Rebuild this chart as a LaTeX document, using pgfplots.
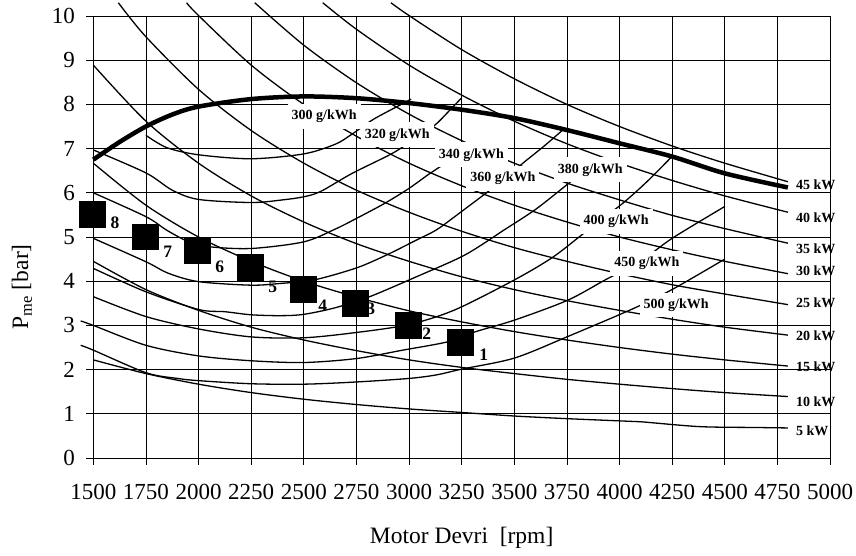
\documentclass[border=0pt]{standalone}
\usepackage{fontspec}
\setmainfont{Liberation Serif}
\usepackage{pgfplots}
\pgfplotsset{compat=1.18}
\tikzset{
  lbl/.style={fill=white, inner xsep=4pt, inner ysep=6pt, font=\bfseries\fontsize{14}{16}\selectfont},
  kw/.style={anchor=west, inner sep=0pt, font=\bfseries\fontsize{14}{16}\selectfont},
  num/.style={inner sep=0pt, font=\bfseries\fontsize{17.5}{19}\selectfont},
}
\begin{document}
\begin{tikzpicture}
\begin{axis}[
  name=ax,
  scale only axis,
  width=736.7pt, height=442pt,
  xmin=1500, xmax=5000, ymin=0, ymax=10,
  xtick={1500,1750,...,5000},
  ytick={0,1,...,10},
  clip=false,
  grid=major,
  major grid style={black, line width=0.65pt},
  axis line style={black, line width=0.9pt},
  tick align=outside,
  major tick length=7pt,
  tick style={black, line width=0.65pt},
  tick pos=left,
  /pgf/number format/assume math mode=true,
  /pgf/number format/1000 sep={},
  tick label style={font=\fontsize{23}{25}\selectfont},
  xticklabel style={yshift=-16pt},
  yticklabel style={xshift=-8pt},
  xlabel={Motor Devri~ [rpm]},
  ylabel={P\textsubscript{me} [bar]},
  label style={font=\fontsize{23.5}{25}\selectfont},
  xlabel style={at={(axis description cs:0.5,-0.181)}, anchor=center},
  ylabel style={at={(axis description cs:-0.097,0.387)}, anchor=center},
  every axis plot/.append style={black, line width=1.3pt},
]
% power hyperbolas
\addplot[smooth] coordinates {(1500,2.22)(1750,1.91)(2000,1.67)(2250,1.48)(2500,1.33)(2750,1.21)(3000,1.11)(3250,1.03)(3500,0.95)(3750,0.89)(4000,0.84)(4100,0.82)(4380,0.71)(4650,0.69)(4800,0.68)};
\addplot[smooth] coordinates {(1500,4.45)(1750,3.81)(2000,3.34)(2250,2.96)(2500,2.67)(2750,2.43)(3000,2.22)(3250,2.05)(3500,1.91)(3750,1.78)(4000,1.67)(4250,1.57)(4500,1.48)(4800,1.39)};
\addplot[smooth] coordinates {(1500,6.67)(1750,5.72)(2000,5.00)(2250,4.45)(2500,4.00)(2750,3.64)(3000,3.33)(3250,3.08)(3500,2.86)(3750,2.67)(4000,2.50)(4250,2.35)(4500,2.22)(4800,2.08)};
\addplot[smooth] coordinates {(1500,8.89)(1750,7.62)(2000,6.67)(2250,5.93)(2500,5.34)(2750,4.85)(3000,4.45)(3250,4.10)(3500,3.81)(3750,3.56)(4000,3.34)(4250,3.14)(4500,2.96)(4800,2.78)};
\addplot[smooth] coordinates {(1619,10.3)(1750,9.53)(2000,8.34)(2250,7.41)(2500,6.67)(2750,6.06)(3000,5.56)(3250,5.13)(3500,4.76)(3750,4.45)(4000,4.17)(4250,3.92)(4500,3.71)(4800,3.47)};
\addplot[smooth] coordinates {(1943,10.3)(2000,10.01)(2250,8.89)(2500,8.00)(2750,7.28)(3000,6.67)(3250,6.16)(3500,5.72)(3750,5.34)(4000,5.00)(4250,4.71)(4500,4.45)(4800,4.17)};
\addplot[smooth] coordinates {(2267,10.3)(2500,9.34)(2750,8.49)(3000,7.78)(3250,7.18)(3500,6.67)(3750,6.22)(4000,5.84)(4250,5.49)(4500,5.19)(4800,4.86)};
\addplot[smooth] coordinates {(2590,10.3)(2750,9.70)(3000,8.89)(3250,8.21)(3500,7.62)(3750,7.11)(4000,6.67)(4250,6.28)(4500,5.93)(4800,5.56)};
\addplot[smooth] coordinates {(2914,10.3)(3000,10.01)(3250,9.24)(3500,8.58)(3750,8.00)(4000,7.50)(4250,7.06)(4500,6.67)(4800,6.25)};
% BSFC curves
\addplot[smooth] coordinates {(1750,7.30)(1850,7.02)(2000,6.86)(2250,6.77)(2500,6.88)(2650,7.10)(2730,7.33)(2830,7.66)(2955,7.98)(3010,8.12)};
\addplot[smooth] coordinates {(1500,6.97)(1750,6.45)(1875,6.06)(2000,5.85)(2250,5.78)(2400,5.84)(2500,5.91)(2580,6.03)(2730,6.44)(2920,6.89)(3020,7.20)(3120,7.52)(3190,7.85)(3250,8.15)};
\addplot[smooth] coordinates {(1500,6.00)(1750,5.46)(1850,5.15)(1950,4.90)(2050,4.78)(2250,4.74)(2500,4.89)(2650,5.18)(2750,5.42)(2884,5.76)(3000,6.10)(3100,6.44)(3200,6.75)};
\addplot[smooth] coordinates {(1500,4.97)(1750,4.44)(1856,4.18)(2000,3.99)(2250,3.91)(2390,3.95)(2550,4.03)(2750,4.30)(2892,4.59)(3035,4.93)(3130,5.16)(3217,5.46)(3343,5.91)(3450,6.30)(3541,6.67)(3640,7.05)(3735,7.44)};
\addplot[smooth] coordinates {(1500,4.29)(1750,3.76)(2000,3.36)(2125,3.31)(2250,3.24)(2390,3.22)(2500,3.25)(2650,3.40)(2813,3.65)(3035,4.10)(3264,4.59)(3452,5.16)(3600,5.62)(3739,6.14)(3780,6.30)};
\addplot[smooth] coordinates {(1500,3.65)(1750,3.20)(2000,2.92)(2250,2.74)(2500,2.72)(2750,2.84)(3000,3.02)(3217,3.35)(3501,4.03)(3676,4.52)(3800,4.97)(3900,5.35)(4015,5.76)(4130,6.25)(4245,6.80)};
\addplot[smooth] coordinates {(1440,3.10)(1500,3.00)(1750,2.55)(2000,2.31)(2250,2.20)(2500,2.16)(2750,2.25)(2970,2.44)(3185,2.63)(3311,2.85)(3501,3.12)(3754,3.57)(3936,4.04)(4100,4.45)(4250,4.97)(4500,5.69)};
\addplot[smooth] coordinates {(1440,2.55)(1500,2.44)(1750,1.93)(1900,1.80)(2000,1.75)(2250,1.68)(2500,1.67)(2750,1.72)(3000,1.80)(3130,1.88)(3250,2.01)(3500,2.26)(3750,2.74)(4070,3.39)(4253,3.82)(4500,4.50)};
% full load
\addplot[smooth, line width=4.5pt] coordinates {(1500,6.75)(1625,7.15)(1750,7.50)(1875,7.77)(2000,7.95)(2250,8.12)(2500,8.18)(2750,8.14)(3000,8.03)(3250,7.88)(3500,7.69)(3750,7.42)(4000,7.12)(4250,6.82)(4500,6.44)(4800,6.12)};
% point labels
\node[num] at (axis cs:1603,5.32) {8};
\node[num] at (axis cs:1854,4.66) {7};
\node[num] at (axis cs:2101,4.32) {6};
\node[num] at (axis cs:2353,3.87) {5};
\node[num] at (axis cs:2590,3.44) {4};
\node[num] at (axis cs:2818,3.37) {3};
\node[num] at (axis cs:3084,2.81) {2};
\node[num] at (axis cs:3355,2.33) {1};
% operating points
\addplot[only marks, mark=square*, mark size=12.8pt, mark options={fill=black, draw=black}] coordinates {(1496,5.50)(1748,5.00)(1996,4.69)(2246,4.31)(2497,3.81)(2746,3.50)(2997,3.00)(3244,2.61)};
% BSFC labels
\node[lbl] at (axis cs:2597,7.73) {300 g/kWh};
\node[lbl] at (axis cs:2944,7.31) {320 g/kWh};
\node[lbl] at (axis cs:3296,6.86) {340 g/kWh};
\node[lbl] at (axis cs:3446,6.33) {360 g/kWh};
\node[lbl] at (axis cs:3861,6.52) {380 g/kWh};
\node[lbl] at (axis cs:3984,5.35) {400 g/kWh};
\node[lbl] at (axis cs:4130,4.40) {450 g/kWh};
\node[lbl] at (axis cs:4269,3.46) {500 g/kWh};
% power labels
\node[kw] at (axis cs:4838,6.18) {45 kW};
\node[kw] at (axis cs:4838,5.43) {40 kW};
\node[kw] at (axis cs:4838,4.73) {35 kW};
\node[kw] at (axis cs:4838,4.23) {30 kW};
\node[kw] at (axis cs:4838,3.51) {25 kW};
\node[kw] at (axis cs:4838,2.76) {20 kW};
\node[kw] at (axis cs:4838,2.06) {15 kW};
\node[kw] at (axis cs:4838,1.27) {10 kW};
\node[kw] at (axis cs:4838,0.61) {5 kW};
\end{axis}
\pgfresetboundingbox
\path ([xshift=-93.3pt,yshift=-98pt]ax.south west) rectangle ([xshift=26pt,yshift=16pt]ax.north east);
\end{tikzpicture}
\end{document}
